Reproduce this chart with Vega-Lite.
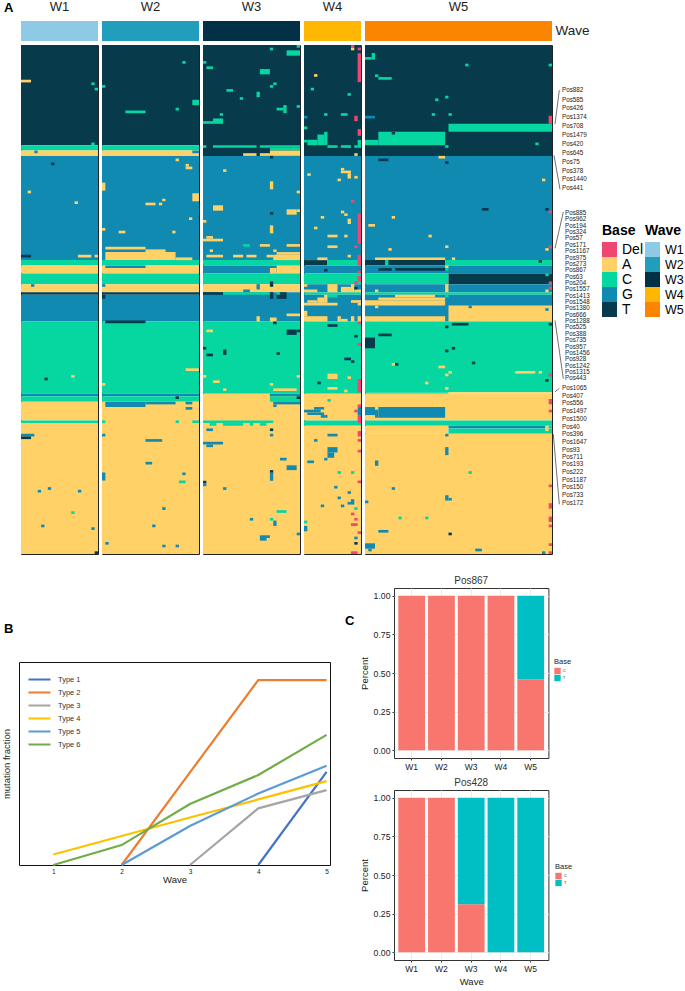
{
"$schema":"https://vega.github.io/schema/vega-lite/v6.json",
"background":"white",
"padding":{"left":0,"top":1,"right":0,"bottom":1},
"config":{"font":"Liberation Sans","view":{"stroke":null}},
"datasets":{
"strips":[{"wave":"W1","name":"Wave"},{"wave":"W2","name":"Wave"},{"wave":"W3","name":"Wave"},{"wave":"W4","name":"Wave"},{"wave":"W5","name":"Wave"}],
"cells":[
{"wave":"W1","base":"T","s0":0,"s1":23,"r0":0,"r1":38},{"wave":"W1","base":"C","s0":0,"s1":23,"r0":38,"r1":40},{"wave":"W1","base":"A","s0":0,"s1":23,"r0":40,"r1":42},{"wave":"W1","base":"G","s0":0,"s1":23,"r0":42,"r1":81},{"wave":"W1","base":"C","s0":0,"s1":23,"r0":81,"r1":83},{"wave":"W1","base":"A","s0":0,"s1":23,"r0":83,"r1":86},{"wave":"W1","base":"C","s0":0,"s1":23,"r0":86,"r1":90},{"wave":"W1","base":"A","s0":0,"s1":23,"r0":90,"r1":93},{"wave":"W1","base":"T","s0":0,"s1":23,"r0":93,"r1":94},{"wave":"W1","base":"G","s0":0,"s1":23,"r0":94,"r1":104},{"wave":"W1","base":"C","s0":0,"s1":23,"r0":104,"r1":131},{"wave":"W1","base":"G","s0":0,"s1":23,"r0":131,"r1":132},{"wave":"W1","base":"C","s0":0,"s1":23,"r0":132,"r1":134},{"wave":"W1","base":"A","s0":0,"s1":23,"r0":134,"r1":141},{"wave":"W1","base":"C","s0":0,"s1":23,"r0":141,"r1":142},{"wave":"W1","base":"A","s0":0,"s1":23,"r0":142,"r1":191},
{"wave":"W1","base":"A","s0":0,"s1":3,"r0":13.5,"r1":14.5},{"wave":"W1","base":"C","s0":21,"s1":22,"r0":14.5,"r1":15.5},{"wave":"W1","base":"C","s0":22,"s1":23,"r0":16.5,"r1":17.5},{"wave":"W1","base":"C","s0":21,"s1":22,"r0":37,"r1":38},{"wave":"W1","base":"G","s0":4,"s1":5,"r0":40,"r1":41},{"wave":"W1","base":"T","s0":9,"s1":10,"r0":44.5,"r1":45.5},{"wave":"W1","base":"A","s0":2,"s1":3,"r0":55,"r1":56},{"wave":"W1","base":"A","s0":16,"s1":17,"r0":59,"r1":60},{"wave":"W1","base":"T","s0":0,"s1":3,"r0":79,"r1":80},{"wave":"W1","base":"A","s0":17,"s1":21,"r0":79,"r1":80},{"wave":"W1","base":"A","s0":22,"s1":23,"r0":79,"r1":80},{"wave":"W1","base":"G","s0":3,"s1":4,"r0":90,"r1":91},{"wave":"W1","base":"T","s0":7,"s1":8,"r0":125,"r1":126},{"wave":"W1","base":"A","s0":15,"s1":16,"r0":124,"r1":125},{"wave":"W1","base":"G","s0":0,"s1":4,"r0":146,"r1":147},{"wave":"W1","base":"T","s0":0,"s1":3,"r0":147,"r1":148},{"wave":"W1","base":"G","s0":5,"s1":6,"r0":167,"r1":168},{"wave":"W1","base":"G","s0":8,"s1":9,"r0":166,"r1":167},{"wave":"W1","base":"G","s0":17,"s1":18,"r0":167,"r1":168},{"wave":"W1","base":"C","s0":15,"s1":16,"r0":175,"r1":176},{"wave":"W1","base":"G","s0":6,"s1":7,"r0":180,"r1":181},{"wave":"W1","base":"G","s0":21,"s1":22,"r0":181,"r1":182},{"wave":"W1","base":"T","s0":22,"s1":23,"r0":190,"r1":191},

{"wave":"W2","base":"T","s0":0,"s1":29,"r0":0,"r1":38},{"wave":"W2","base":"C","s0":0,"s1":29,"r0":38,"r1":40},{"wave":"W2","base":"A","s0":0,"s1":29,"r0":40,"r1":42},{"wave":"W2","base":"G","s0":0,"s1":29,"r0":42,"r1":81},{"wave":"W2","base":"C","s0":0,"s1":29,"r0":81,"r1":83},{"wave":"W2","base":"A","s0":0,"s1":29,"r0":83,"r1":86},{"wave":"W2","base":"C","s0":0,"s1":29,"r0":86,"r1":90},{"wave":"W2","base":"A","s0":0,"s1":29,"r0":90,"r1":93},{"wave":"W2","base":"T","s0":0,"s1":29,"r0":93,"r1":94},{"wave":"W2","base":"G","s0":0,"s1":29,"r0":94,"r1":104},{"wave":"W2","base":"C","s0":0,"s1":29,"r0":104,"r1":131},{"wave":"W2","base":"G","s0":0,"s1":29,"r0":131,"r1":132},{"wave":"W2","base":"C","s0":0,"s1":29,"r0":132,"r1":134},{"wave":"W2","base":"A","s0":0,"s1":29,"r0":134,"r1":191},
{"wave":"W2","base":"C","s0":24,"s1":25,"r0":6.5,"r1":7.5},{"wave":"W2","base":"C","s0":0,"s1":1,"r0":15.5,"r1":16.5},{"wave":"W2","base":"C","s0":7,"s1":13,"r0":25,"r1":26},{"wave":"W2","base":"C","s0":22,"s1":23,"r0":24,"r1":25},{"wave":"W2","base":"C","s0":27,"s1":29,"r0":21,"r1":23},{"wave":"W2","base":"G","s0":27,"s1":29,"r0":40,"r1":41},{"wave":"W2","base":"A","s0":22,"s1":23,"r0":43,"r1":44},{"wave":"W2","base":"A","s0":25,"s1":26,"r0":45,"r1":46},{"wave":"W2","base":"A","s0":25,"s1":27,"r0":46,"r1":47},{"wave":"W2","base":"A","s0":0,"s1":1,"r0":52,"r1":55},{"wave":"W2","base":"A","s0":27,"s1":29,"r0":56,"r1":59},{"wave":"W2","base":"A","s0":18,"s1":19,"r0":58,"r1":59},{"wave":"W2","base":"A","s0":13,"s1":16,"r0":59.5,"r1":60.5},{"wave":"W2","base":"A","s0":17,"s1":18,"r0":59.5,"r1":60.5},{"wave":"W2","base":"A","s0":26,"s1":27,"r0":65,"r1":66},{"wave":"W2","base":"A","s0":0,"s1":1,"r0":69,"r1":70},{"wave":"W2","base":"A","s0":5,"s1":7,"r0":70,"r1":71},{"wave":"W2","base":"A","s0":21,"s1":22,"r0":70,"r1":71},{"wave":"W2","base":"A","s0":1,"s1":13,"r0":76,"r1":77},{"wave":"W2","base":"A","s0":13,"s1":19,"r0":77,"r1":78},{"wave":"W2","base":"A","s0":1,"s1":22,"r0":78,"r1":81},{"wave":"W2","base":"A","s0":22,"s1":27,"r0":80,"r1":81},{"wave":"W2","base":"G","s0":1,"s1":13,"r0":83,"r1":84},{"wave":"W2","base":"G","s0":0,"s1":1,"r0":90,"r1":91},{"wave":"W2","base":"T","s0":0,"s1":1,"r0":94,"r1":95.5},{"wave":"W2","base":"T","s0":1,"s1":13,"r0":103.6,"r1":104.6},{"wave":"W2","base":"A","s0":25,"s1":29,"r0":121.5,"r1":122.5},{"wave":"W2","base":"A","s0":0,"s1":1,"r0":127,"r1":128},{"wave":"W2","base":"T","s0":22,"s1":23,"r0":132,"r1":133},{"wave":"W2","base":"G","s0":1,"s1":13,"r0":134,"r1":136},{"wave":"W2","base":"G","s0":13,"s1":22,"r0":134,"r1":135},{"wave":"W2","base":"G","s0":25,"s1":27,"r0":134,"r1":135},{"wave":"W2","base":"G","s0":25,"s1":27,"r0":136,"r1":137},{"wave":"W2","base":"C","s0":0,"s1":1,"r0":141,"r1":142},{"wave":"W2","base":"C","s0":22,"s1":23,"r0":141,"r1":142},{"wave":"W2","base":"C","s0":27,"s1":29,"r0":141,"r1":142},{"wave":"W2","base":"G","s0":0,"s1":1,"r0":146,"r1":147},{"wave":"W2","base":"G","s0":13,"s1":18,"r0":148,"r1":149},{"wave":"W2","base":"G","s0":13,"s1":15,"r0":156.5,"r1":157.5},{"wave":"W2","base":"G","s0":24,"s1":25,"r0":160.5,"r1":161.5},{"wave":"W2","base":"G","s0":0,"s1":1,"r0":160.5,"r1":163.5},{"wave":"W2","base":"C","s0":23,"s1":25,"r0":163.5,"r1":164.5},{"wave":"W2","base":"G","s0":18,"s1":19,"r0":173.5,"r1":174.5},{"wave":"W2","base":"G","s0":15,"s1":16,"r0":180,"r1":181},{"wave":"W2","base":"G","s0":1,"s1":2,"r0":186.5,"r1":187.5},{"wave":"W2","base":"G","s0":18,"s1":19,"r0":187.5,"r1":188.5},{"wave":"W2","base":"G","s0":22,"s1":23,"r0":187.5,"r1":188.5},

{"wave":"W3","base":"T","s0":0,"s1":29,"r0":0,"r1":42},{"wave":"W3","base":"G","s0":0,"s1":29,"r0":42,"r1":81},{"wave":"W3","base":"C","s0":0,"s1":29,"r0":81,"r1":83},{"wave":"W3","base":"G","s0":0,"s1":29,"r0":83,"r1":86},{"wave":"W3","base":"C","s0":0,"s1":29,"r0":86,"r1":90},{"wave":"W3","base":"A","s0":0,"s1":29,"r0":90,"r1":93},{"wave":"W3","base":"G","s0":0,"s1":29,"r0":93,"r1":104},{"wave":"W3","base":"C","s0":0,"s1":29,"r0":104,"r1":131},{"wave":"W3","base":"A","s0":0,"s1":29,"r0":131,"r1":191},
{"wave":"W3","base":"C","s0":20,"s1":21,"r0":1.5,"r1":2.5},{"wave":"W3","base":"C","s0":28,"s1":29,"r0":0.5,"r1":1.5},{"wave":"W3","base":"C","s0":25,"s1":29,"r0":2.5,"r1":4.5},{"wave":"W3","base":"C","s0":0,"s1":1,"r0":6.5,"r1":7.5},{"wave":"W3","base":"C","s0":1,"s1":3,"r0":8.5,"r1":9.5},{"wave":"W3","base":"C","s0":17,"s1":20,"r0":9.5,"r1":11.5},{"wave":"W3","base":"C","s0":21,"s1":22,"r0":14.5,"r1":15.5},{"wave":"W3","base":"C","s0":20,"s1":21,"r0":15.5,"r1":16.5},{"wave":"W3","base":"C","s0":7,"s1":9,"r0":17,"r1":18},{"wave":"W3","base":"C","s0":16,"s1":17,"r0":18,"r1":20},{"wave":"W3","base":"C","s0":11,"s1":12,"r0":20,"r1":21},{"wave":"W3","base":"C","s0":28,"s1":29,"r0":23,"r1":24},{"wave":"W3","base":"C","s0":22,"s1":24,"r0":24,"r1":25},{"wave":"W3","base":"C","s0":24,"s1":25,"r0":23,"r1":26},{"wave":"W3","base":"C","s0":5,"s1":6,"r0":26,"r1":27},{"wave":"W3","base":"C","s0":3,"s1":6,"r0":28,"r1":30},{"wave":"W3","base":"C","s0":0,"s1":3,"r0":29,"r1":30},{"wave":"W3","base":"C","s0":0,"s1":1,"r0":38,"r1":39},{"wave":"W3","base":"C","s0":3,"s1":16,"r0":38,"r1":39},{"wave":"W3","base":"C","s0":17,"s1":29,"r0":38,"r1":39},{"wave":"W3","base":"C","s0":20,"s1":29,"r0":39,"r1":40},{"wave":"W3","base":"A","s0":20,"s1":29,"r0":40,"r1":42},{"wave":"W3","base":"A","s0":12,"s1":16,"r0":41,"r1":42},{"wave":"W3","base":"A","s0":17,"s1":20,"r0":41,"r1":42},{"wave":"W3","base":"T","s0":20,"s1":21,"r0":42,"r1":43},{"wave":"W3","base":"A","s0":6,"s1":7,"r0":47,"r1":48},{"wave":"W3","base":"A","s0":20,"s1":21,"r0":51.5,"r1":54.5},{"wave":"W3","base":"A","s0":28,"s1":29,"r0":55,"r1":56},{"wave":"W3","base":"A","s0":3,"s1":6,"r0":60.5,"r1":62.5},{"wave":"W3","base":"A","s0":25,"s1":28,"r0":62,"r1":64},{"wave":"W3","base":"A","s0":28,"s1":29,"r0":62,"r1":63},{"wave":"W3","base":"T","s0":20,"s1":21,"r0":63,"r1":64},{"wave":"W3","base":"A","s0":0,"s1":1,"r0":66,"r1":67},{"wave":"W3","base":"A","s0":20,"s1":21,"r0":68,"r1":71},{"wave":"W3","base":"A","s0":1,"s1":3,"r0":72,"r1":73},{"wave":"W3","base":"A","s0":0,"s1":6,"r0":73,"r1":74},{"wave":"W3","base":"C","s0":12,"s1":14,"r0":75,"r1":76},{"wave":"W3","base":"A","s0":17,"s1":20,"r0":75,"r1":76},{"wave":"W3","base":"A","s0":25,"s1":29,"r0":75,"r1":76},{"wave":"W3","base":"A","s0":2,"s1":3,"r0":77,"r1":78},{"wave":"W3","base":"A","s0":21,"s1":22,"r0":77,"r1":78},{"wave":"W3","base":"A","s0":22,"s1":29,"r0":78,"r1":79},{"wave":"W3","base":"A","s0":1,"s1":6,"r0":79,"r1":80},{"wave":"W3","base":"A","s0":9,"s1":12,"r0":79,"r1":80},{"wave":"W3","base":"A","s0":13,"s1":16,"r0":79,"r1":80},{"wave":"W3","base":"A","s0":19,"s1":21,"r0":79,"r1":80},{"wave":"W3","base":"A","s0":21,"s1":29,"r0":79,"r1":81},{"wave":"W3","base":"A","s0":22,"s1":29,"r0":83,"r1":86},{"wave":"W3","base":"A","s0":20,"s1":22,"r0":84,"r1":86},{"wave":"W3","base":"T","s0":20,"s1":21,"r0":89,"r1":91},{"wave":"W3","base":"G","s0":16,"s1":17,"r0":90,"r1":92},{"wave":"W3","base":"G","s0":12,"s1":14,"r0":92,"r1":93},{"wave":"W3","base":"T","s0":0,"s1":6,"r0":93,"r1":94},{"wave":"W3","base":"C","s0":6,"s1":20,"r0":93,"r1":94},{"wave":"W3","base":"T","s0":20,"s1":21,"r0":93,"r1":95.5},{"wave":"W3","base":"C","s0":22,"s1":23,"r0":93,"r1":94},{"wave":"W3","base":"T","s0":23,"s1":25,"r0":93,"r1":94},{"wave":"W3","base":"T","s0":22,"s1":25,"r0":94,"r1":95.5},{"wave":"W3","base":"A","s0":25,"s1":29,"r0":101,"r1":102},{"wave":"W3","base":"A","s0":16,"s1":17,"r0":102,"r1":104},{"wave":"W3","base":"A","s0":20,"s1":22,"r0":102.5,"r1":104},{"wave":"W3","base":"T","s0":21,"s1":22,"r0":104,"r1":105},{"wave":"W3","base":"A","s0":1,"s1":3,"r0":107,"r1":108},{"wave":"W3","base":"T","s0":25,"s1":28,"r0":107,"r1":109},{"wave":"W3","base":"T","s0":28,"s1":29,"r0":107,"r1":108},{"wave":"W3","base":"T","s0":0,"s1":1,"r0":113.5,"r1":114.5},{"wave":"W3","base":"T","s0":1,"s1":3,"r0":116,"r1":117},{"wave":"W3","base":"T","s0":6,"s1":7,"r0":114.5,"r1":116.5},{"wave":"W3","base":"T","s0":22,"s1":23,"r0":115.5,"r1":116.5},{"wave":"W3","base":"A","s0":0,"s1":1,"r0":124,"r1":125},{"wave":"W3","base":"A","s0":28,"s1":29,"r0":124,"r1":125},{"wave":"W3","base":"A","s0":3,"s1":5,"r0":126,"r1":127},{"wave":"W3","base":"A","s0":20,"s1":21,"r0":127,"r1":128},{"wave":"W3","base":"A","s0":6,"s1":7,"r0":129,"r1":130},{"wave":"W3","base":"A","s0":21,"s1":28,"r0":129,"r1":130},{"wave":"W3","base":"G","s0":20,"s1":29,"r0":131,"r1":132},{"wave":"W3","base":"C","s0":20,"s1":29,"r0":132,"r1":134},{"wave":"W3","base":"T","s0":28,"s1":29,"r0":132,"r1":133},{"wave":"W3","base":"G","s0":21,"s1":29,"r0":134,"r1":135},{"wave":"W3","base":"G","s0":21,"s1":22,"r0":135,"r1":136},{"wave":"W3","base":"C","s0":0,"s1":21,"r0":141,"r1":142},{"wave":"W3","base":"C","s0":2,"s1":4,"r0":142,"r1":143},{"wave":"W3","base":"C","s0":6,"s1":12,"r0":142,"r1":143},{"wave":"W3","base":"C","s0":14,"s1":15,"r0":142,"r1":143},{"wave":"W3","base":"C","s0":17,"s1":19,"r0":142,"r1":143},{"wave":"W3","base":"G","s0":1,"s1":3,"r0":144,"r1":145},{"wave":"W3","base":"T","s0":20,"s1":21,"r0":144,"r1":145},{"wave":"W3","base":"G","s0":20,"s1":21,"r0":146,"r1":147},{"wave":"W3","base":"G","s0":0,"s1":6,"r0":149,"r1":150},{"wave":"W3","base":"G","s0":1,"s1":3,"r0":150,"r1":151},{"wave":"W3","base":"G","s0":23,"s1":25,"r0":155,"r1":156},{"wave":"W3","base":"G","s0":25,"s1":28,"r0":157.8,"r1":159.6},{"wave":"W3","base":"T","s0":20,"s1":21,"r0":159.6,"r1":160.6},{"wave":"W3","base":"G","s0":20,"s1":21,"r0":160.6,"r1":163.6},{"wave":"W3","base":"T","s0":0,"s1":1,"r0":163.6,"r1":164.6},{"wave":"W3","base":"G","s0":0,"s1":1,"r0":164.6,"r1":165.6},{"wave":"W3","base":"G","s0":6,"s1":7,"r0":166,"r1":167},{"wave":"W3","base":"C","s0":22,"s1":25,"r0":174.6,"r1":175.6},{"wave":"W3","base":"G","s0":14,"s1":15,"r0":177.5,"r1":178.5},{"wave":"W3","base":"C","s0":20,"s1":21,"r0":177.5,"r1":178.5},{"wave":"W3","base":"G","s0":21,"s1":22,"r0":178.5,"r1":180.5},{"wave":"W3","base":"G","s0":28,"s1":29,"r0":183,"r1":184},{"wave":"W3","base":"G","s0":17,"s1":20,"r0":184,"r1":185},{"wave":"W3","base":"G","s0":17,"s1":19,"r0":185,"r1":186},

{"wave":"W4","base":"T","s0":0,"s1":17,"r0":0,"r1":42},{"wave":"W4","base":"G","s0":0,"s1":17,"r0":42,"r1":81},{"wave":"W4","base":"T","s0":0,"s1":7,"r0":81,"r1":83},{"wave":"W4","base":"C","s0":7,"s1":17,"r0":81,"r1":83},{"wave":"W4","base":"G","s0":0,"s1":17,"r0":83,"r1":86},{"wave":"W4","base":"C","s0":0,"s1":17,"r0":86,"r1":90},{"wave":"W4","base":"G","s0":0,"s1":17,"r0":90,"r1":93},{"wave":"W4","base":"C","s0":0,"s1":17,"r0":93,"r1":94},{"wave":"W4","base":"G","s0":0,"s1":17,"r0":94,"r1":104},{"wave":"W4","base":"C","s0":0,"s1":17,"r0":104,"r1":131},{"wave":"W4","base":"A","s0":0,"s1":17,"r0":131,"r1":141},{"wave":"W4","base":"C","s0":0,"s1":17,"r0":141,"r1":143},{"wave":"W4","base":"A","s0":0,"s1":17,"r0":143,"r1":191},
{"wave":"W4","base":"Del","s0":14,"s1":15,"r0":0.5,"r1":1.5},{"wave":"W4","base":"A","s0":14,"s1":15,"r0":1.5,"r1":2.5},{"wave":"W4","base":"Del","s0":16,"s1":17,"r0":1.5,"r1":2.5},{"wave":"W4","base":"Del","s0":16,"s1":17,"r0":3.6,"r1":14.4},{"wave":"W4","base":"A","s0":3,"s1":4,"r0":11.4,"r1":12.4},{"wave":"W4","base":"C","s0":2,"s1":3,"r0":16.5,"r1":17.5},{"wave":"W4","base":"C","s0":13,"s1":14,"r0":18.5,"r1":19.5},{"wave":"W4","base":"C","s0":6,"s1":7,"r0":26,"r1":27},{"wave":"W4","base":"C","s0":11,"s1":13,"r0":26,"r1":27},{"wave":"W4","base":"G","s0":0,"s1":1,"r0":27,"r1":28},{"wave":"W4","base":"Del","s0":15,"s1":16,"r0":27,"r1":29},{"wave":"W4","base":"C","s0":0,"s1":1,"r0":31,"r1":32},{"wave":"W4","base":"Del","s0":16,"s1":17,"r0":32,"r1":34.5},{"wave":"W4","base":"C","s0":6,"s1":7,"r0":33,"r1":38},{"wave":"W4","base":"C","s0":4,"s1":6,"r0":34,"r1":38},{"wave":"W4","base":"C","s0":1,"s1":4,"r0":36,"r1":38},{"wave":"W4","base":"C","s0":0,"s1":1,"r0":36,"r1":37},{"wave":"W4","base":"C","s0":7,"s1":10,"r0":38,"r1":39},{"wave":"W4","base":"C","s0":11,"s1":14,"r0":38,"r1":39},{"wave":"W4","base":"C","s0":15,"s1":16,"r0":38,"r1":39},{"wave":"W4","base":"C","s0":16,"s1":17,"r0":36,"r1":39},{"wave":"W4","base":"A","s0":15,"s1":16,"r0":41,"r1":42},{"wave":"W4","base":"A","s0":1,"s1":2,"r0":48.5,"r1":49.5},{"wave":"W4","base":"A","s0":11,"s1":12,"r0":46.5,"r1":47.5},{"wave":"W4","base":"A","s0":11,"s1":14,"r0":47.5,"r1":48.5},{"wave":"W4","base":"A","s0":13,"s1":14,"r0":48.5,"r1":50.5},{"wave":"W4","base":"A","s0":15,"s1":16,"r0":49.5,"r1":50.5},{"wave":"W4","base":"A","s0":10,"s1":11,"r0":50.5,"r1":51.5},{"wave":"W4","base":"Del","s0":14,"s1":15,"r0":58.5,"r1":59.5},{"wave":"W4","base":"A","s0":11,"s1":12,"r0":62.5,"r1":63.5},{"wave":"W4","base":"A","s0":12,"s1":13,"r0":63.5,"r1":64.5},{"wave":"W4","base":"A","s0":5,"s1":6,"r0":64.5,"r1":65.5},{"wave":"W4","base":"A","s0":13,"s1":14,"r0":65.5,"r1":67.5},{"wave":"W4","base":"Del","s0":16,"s1":17,"r0":63.5,"r1":75},{"wave":"W4","base":"A","s0":3,"s1":4,"r0":68.5,"r1":69.5},{"wave":"W4","base":"A","s0":7,"s1":10,"r0":71.5,"r1":72.5},{"wave":"W4","base":"A","s0":12,"s1":13,"r0":71.5,"r1":72.5},{"wave":"W4","base":"A","s0":7,"s1":10,"r0":75.5,"r1":76.5},{"wave":"W4","base":"Del","s0":15,"s1":16,"r0":75.5,"r1":76.5},{"wave":"W4","base":"A","s0":13,"s1":14,"r0":79,"r1":80},{"wave":"W4","base":"A","s0":4,"s1":7,"r0":80,"r1":81},{"wave":"W4","base":"Del","s0":16,"s1":17,"r0":79,"r1":83},{"wave":"W4","base":"T","s0":6,"s1":7,"r0":84.3,"r1":85.3},{"wave":"W4","base":"Del","s0":16,"s1":17,"r0":85,"r1":86},{"wave":"W4","base":"Del","s0":16,"s1":17,"r0":87,"r1":89},{"wave":"W4","base":"A","s0":0,"s1":1,"r0":90,"r1":91},{"wave":"W4","base":"A","s0":7,"s1":10,"r0":90,"r1":93},{"wave":"W4","base":"A","s0":11,"s1":14,"r0":91,"r1":93},{"wave":"W4","base":"A","s0":14,"s1":15,"r0":90,"r1":93},{"wave":"W4","base":"A","s0":0,"s1":4,"r0":92,"r1":93},{"wave":"W4","base":"A","s0":15,"s1":17,"r0":92,"r1":93},{"wave":"W4","base":"Del","s0":15,"s1":16,"r0":89,"r1":90},{"wave":"W4","base":"T","s0":15,"s1":16,"r0":91,"r1":92},{"wave":"W4","base":"C","s0":7,"s1":10,"r0":94,"r1":95},{"wave":"W4","base":"A","s0":6,"s1":7,"r0":94,"r1":97},{"wave":"W4","base":"A","s0":4,"s1":6,"r0":95,"r1":97},{"wave":"W4","base":"A","s0":1,"s1":4,"r0":96,"r1":97},{"wave":"W4","base":"A","s0":0,"s1":10,"r0":97,"r1":98},{"wave":"W4","base":"A","s0":14,"s1":17,"r0":96,"r1":97},{"wave":"W4","base":"A","s0":16,"s1":17,"r0":97,"r1":98},{"wave":"W4","base":"A","s0":0,"s1":1,"r0":100,"r1":102},{"wave":"W4","base":"A","s0":0,"s1":7,"r0":102,"r1":104},{"wave":"W4","base":"A","s0":10,"s1":11,"r0":102,"r1":104},{"wave":"W4","base":"A","s0":11,"s1":13,"r0":103,"r1":104},{"wave":"W4","base":"A","s0":14,"s1":15,"r0":102,"r1":104},{"wave":"W4","base":"A","s0":16,"s1":17,"r0":102,"r1":104},{"wave":"W4","base":"Del","s0":16,"s1":17,"r0":104,"r1":105},{"wave":"W4","base":"T","s0":7,"s1":10,"r0":105,"r1":106},{"wave":"W4","base":"T","s0":15,"s1":16,"r0":109,"r1":110},{"wave":"W4","base":"Del","s0":16,"s1":17,"r0":112,"r1":113},{"wave":"W4","base":"T","s0":12,"s1":14,"r0":117.5,"r1":118.5},{"wave":"W4","base":"T","s0":14,"s1":15,"r0":118.5,"r1":119.5},{"wave":"W4","base":"A","s0":7,"s1":10,"r0":123.5,"r1":125.5},{"wave":"W4","base":"A","s0":13,"s1":14,"r0":124.5,"r1":125.5},{"wave":"W4","base":"T","s0":4,"s1":5,"r0":126.5,"r1":127.5},{"wave":"W4","base":"Del","s0":16,"s1":17,"r0":125.5,"r1":130.5},{"wave":"W4","base":"A","s0":7,"s1":10,"r0":128.5,"r1":129.5},{"wave":"W4","base":"A","s0":12,"s1":13,"r0":129.5,"r1":130.5},{"wave":"W4","base":"C","s0":7,"s1":8,"r0":133,"r1":134},{"wave":"W4","base":"Del","s0":16,"s1":17,"r0":135,"r1":136},{"wave":"W4","base":"G","s0":3,"s1":6,"r0":136,"r1":137},{"wave":"W4","base":"G","s0":0,"s1":5,"r0":137,"r1":138},{"wave":"W4","base":"A","s0":5,"s1":6,"r0":137,"r1":138},{"wave":"W4","base":"G","s0":1,"s1":6,"r0":138,"r1":139},{"wave":"W4","base":"G","s0":5,"s1":7,"r0":139,"r1":140},{"wave":"W4","base":"Del","s0":15,"s1":16,"r0":137,"r1":138},{"wave":"W4","base":"G","s0":16,"s1":17,"r0":136,"r1":139},{"wave":"W4","base":"Del","s0":16,"s1":17,"r0":139,"r1":142},{"wave":"W4","base":"G","s0":7,"s1":10,"r0":146,"r1":147},{"wave":"W4","base":"Del","s0":16,"s1":17,"r0":145,"r1":147},{"wave":"W4","base":"G","s0":3,"s1":4,"r0":148,"r1":149},{"wave":"W4","base":"Del","s0":16,"s1":17,"r0":148,"r1":149},{"wave":"W4","base":"G","s0":7,"s1":10,"r0":151,"r1":153},{"wave":"W4","base":"G","s0":7,"s1":9,"r0":153,"r1":155},{"wave":"W4","base":"Del","s0":16,"s1":17,"r0":152,"r1":153},{"wave":"W4","base":"G","s0":6,"s1":7,"r0":155,"r1":156},{"wave":"W4","base":"G","s0":1,"s1":3,"r0":156,"r1":157},{"wave":"W4","base":"C","s0":10,"s1":11,"r0":160,"r1":161},{"wave":"W4","base":"C","s0":14,"s1":15,"r0":160,"r1":161},{"wave":"W4","base":"Del","s0":16,"s1":17,"r0":163.5,"r1":164.5},{"wave":"W4","base":"G","s0":9,"s1":10,"r0":165.5,"r1":166.5},{"wave":"W4","base":"G","s0":13,"s1":14,"r0":167.5,"r1":168.5},{"wave":"W4","base":"G","s0":10,"s1":11,"r0":169.5,"r1":170.5},{"wave":"W4","base":"G","s0":14,"s1":15,"r0":170.5,"r1":172.5},{"wave":"W4","base":"G","s0":13,"s1":14,"r0":171.5,"r1":172.5},{"wave":"W4","base":"G","s0":5,"s1":6,"r0":172.5,"r1":173.5},{"wave":"W4","base":"G","s0":11,"s1":12,"r0":172.5,"r1":173.5},{"wave":"W4","base":"C","s0":15,"s1":16,"r0":173.5,"r1":174.5},{"wave":"W4","base":"Del","s0":14,"s1":15,"r0":175.5,"r1":176.5},{"wave":"W4","base":"Del","s0":15,"s1":16,"r0":177.5,"r1":178.5},{"wave":"W4","base":"C","s0":0,"s1":1,"r0":178.5,"r1":179.5},{"wave":"W4","base":"G","s0":0,"s1":1,"r0":180.5,"r1":182.5},{"wave":"W4","base":"Del","s0":14,"s1":16,"r0":179.5,"r1":180.5},{"wave":"W4","base":"Del","s0":16,"s1":17,"r0":182.5,"r1":183.5},{"wave":"W4","base":"G","s0":15,"s1":16,"r0":184.5,"r1":185.5},{"wave":"W4","base":"T","s0":15,"s1":16,"r0":186.5,"r1":187.5},{"wave":"W4","base":"Del","s0":14,"s1":16,"r0":190,"r1":191},

{"wave":"W5","base":"T","s0":0,"s1":56,"r0":0,"r1":42},{"wave":"W5","base":"G","s0":0,"s1":56,"r0":42,"r1":81},{"wave":"W5","base":"T","s0":0,"s1":24,"r0":81,"r1":83},{"wave":"W5","base":"C","s0":24,"s1":56,"r0":81,"r1":83},{"wave":"W5","base":"G","s0":0,"s1":56,"r0":83,"r1":86},{"wave":"W5","base":"C","s0":0,"s1":25,"r0":86,"r1":90},{"wave":"W5","base":"T","s0":25,"s1":56,"r0":86,"r1":90},{"wave":"W5","base":"G","s0":0,"s1":56,"r0":90,"r1":93},{"wave":"W5","base":"C","s0":0,"s1":56,"r0":93,"r1":94},{"wave":"W5","base":"G","s0":0,"s1":56,"r0":94,"r1":104},{"wave":"W5","base":"C","s0":0,"s1":56,"r0":104,"r1":130.5},{"wave":"W5","base":"C","s0":0,"s1":25,"r0":130.5,"r1":131},{"wave":"W5","base":"A","s0":25,"s1":56,"r0":130.5,"r1":131},{"wave":"W5","base":"A","s0":0,"s1":56,"r0":131,"r1":141},{"wave":"W5","base":"C","s0":0,"s1":56,"r0":141,"r1":143},{"wave":"W5","base":"A","s0":0,"s1":25,"r0":143,"r1":146},{"wave":"W5","base":"G","s0":25,"s1":54,"r0":143,"r1":144},{"wave":"W5","base":"C","s0":25,"s1":56,"r0":144,"r1":146},{"wave":"W5","base":"C","s0":54,"s1":56,"r0":143,"r1":144},{"wave":"W5","base":"A","s0":0,"s1":56,"r0":146,"r1":191},
{"wave":"W5","base":"C","s0":2,"s1":3,"r0":3.5,"r1":6},{"wave":"W5","base":"C","s0":0,"s1":2,"r0":5,"r1":6},{"wave":"W5","base":"C","s0":30,"s1":31,"r0":7.5,"r1":8.5},{"wave":"W5","base":"C","s0":55,"s1":56,"r0":7.5,"r1":8.5},{"wave":"W5","base":"C","s0":3,"s1":4,"r0":11.5,"r1":12.5},{"wave":"W5","base":"C","s0":4,"s1":8,"r0":12.5,"r1":13.5},{"wave":"W5","base":"C","s0":21,"s1":22,"r0":20.5,"r1":21.5},{"wave":"W5","base":"C","s0":24,"s1":25,"r0":19.5,"r1":20.5},{"wave":"W5","base":"C","s0":20,"s1":21,"r0":26,"r1":27},{"wave":"W5","base":"C","s0":25,"s1":26,"r0":26,"r1":27},{"wave":"W5","base":"G","s0":0,"s1":3,"r0":27,"r1":28},{"wave":"W5","base":"Del","s0":55,"s1":56,"r0":27,"r1":30},{"wave":"W5","base":"C","s0":25,"s1":56,"r0":30,"r1":33},{"wave":"W5","base":"C","s0":4,"s1":24,"r0":33,"r1":38},{"wave":"W5","base":"C","s0":0,"s1":4,"r0":36,"r1":38},{"wave":"W5","base":"T","s0":8,"s1":9,"r0":33,"r1":34},{"wave":"W5","base":"C","s0":51,"s1":52,"r0":37,"r1":38},{"wave":"W5","base":"C","s0":24,"s1":25,"r0":38,"r1":39},{"wave":"W5","base":"A","s0":22,"s1":24,"r0":42,"r1":43},{"wave":"W5","base":"T","s0":4,"s1":7,"r0":43,"r1":44},{"wave":"W5","base":"T","s0":24,"s1":25,"r0":44,"r1":45},{"wave":"W5","base":"A","s0":53,"s1":54,"r0":50.5,"r1":51.5},{"wave":"W5","base":"T","s0":35,"s1":37,"r0":61.5,"r1":62.5},{"wave":"W5","base":"T","s0":54,"s1":55,"r0":61.5,"r1":62.5},{"wave":"W5","base":"Del","s0":55,"s1":56,"r0":62.5,"r1":63.5},{"wave":"W5","base":"A","s0":8,"s1":9,"r0":64.5,"r1":65.5},{"wave":"W5","base":"A","s0":1,"s1":3,"r0":67.5,"r1":68.5},{"wave":"W5","base":"A","s0":19,"s1":20,"r0":71.5,"r1":72.5},{"wave":"W5","base":"A","s0":24,"s1":25,"r0":75.5,"r1":76.5},{"wave":"W5","base":"Del","s0":55,"s1":56,"r0":75.5,"r1":76.5},{"wave":"W5","base":"A","s0":54,"s1":55,"r0":76.5,"r1":77.5},{"wave":"W5","base":"A","s0":7,"s1":8,"r0":76.5,"r1":77.5},{"wave":"W5","base":"A","s0":3,"s1":24,"r0":80,"r1":81},{"wave":"W5","base":"A","s0":26,"s1":27,"r0":80,"r1":81},{"wave":"W5","base":"C","s0":6,"s1":7,"r0":81,"r1":83},{"wave":"W5","base":"T","s0":52,"s1":53,"r0":81,"r1":82},{"wave":"W5","base":"A","s0":24,"s1":25,"r0":83,"r1":84},{"wave":"W5","base":"C","s0":24,"s1":25,"r0":84,"r1":85},{"wave":"W5","base":"T","s0":4,"s1":8,"r0":84,"r1":85},{"wave":"W5","base":"T","s0":9,"s1":24,"r0":84,"r1":85},{"wave":"W5","base":"C","s0":54,"s1":55,"r0":86,"r1":87},{"wave":"W5","base":"Del","s0":55,"s1":56,"r0":89,"r1":90},{"wave":"W5","base":"A","s0":24,"s1":25,"r0":90,"r1":93},{"wave":"W5","base":"A","s0":3,"s1":4,"r0":92,"r1":93},{"wave":"W5","base":"A","s0":54,"s1":55,"r0":92,"r1":93},{"wave":"W5","base":"Del","s0":55,"s1":56,"r0":91,"r1":92},{"wave":"W5","base":"C","s0":24,"s1":25,"r0":94,"r1":95},{"wave":"W5","base":"A","s0":9,"s1":21,"r0":94,"r1":95},{"wave":"W5","base":"A","s0":4,"s1":24,"r0":95,"r1":96},{"wave":"W5","base":"A","s0":0,"s1":24,"r0":96,"r1":98},{"wave":"W5","base":"A","s0":3,"s1":4,"r0":98,"r1":99},{"wave":"W5","base":"A","s0":25,"s1":56,"r0":98,"r1":104},{"wave":"W5","base":"G","s0":31,"s1":32,"r0":98,"r1":99},{"wave":"W5","base":"G","s0":54,"s1":55,"r0":99,"r1":100},{"wave":"W5","base":"A","s0":0,"s1":24,"r0":102,"r1":104},{"wave":"W5","base":"T","s0":26,"s1":31,"r0":104.5,"r1":105.5},{"wave":"W5","base":"T","s0":24,"s1":25,"r0":105.5,"r1":106.5},{"wave":"W5","base":"T","s0":55,"s1":56,"r0":104.5,"r1":105.5},{"wave":"W5","base":"T","s0":4,"s1":8,"r0":108.5,"r1":109.5},{"wave":"W5","base":"T","s0":0,"s1":3,"r0":110,"r1":114},{"wave":"W5","base":"T","s0":26,"s1":27,"r0":113.5,"r1":114.5},{"wave":"W5","base":"T","s0":24,"s1":25,"r0":114.5,"r1":115.5},{"wave":"W5","base":"T","s0":32,"s1":33,"r0":119,"r1":120},{"wave":"W5","base":"T","s0":9,"s1":10,"r0":119.5,"r1":120.5},{"wave":"W5","base":"A","s0":8,"s1":9,"r0":119.5,"r1":120.5},{"wave":"W5","base":"A","s0":22,"s1":24,"r0":120.5,"r1":121.5},{"wave":"W5","base":"A","s0":25,"s1":26,"r0":122.5,"r1":123.5},{"wave":"W5","base":"A","s0":24,"s1":25,"r0":123.5,"r1":124.5},{"wave":"W5","base":"A","s0":45,"s1":51,"r0":122.5,"r1":123.5},{"wave":"W5","base":"A","s0":52,"s1":53,"r0":122.5,"r1":123.5},{"wave":"W5","base":"Del","s0":55,"s1":56,"r0":123.5,"r1":124.5},{"wave":"W5","base":"T","s0":54,"s1":55,"r0":125.5,"r1":126.5},{"wave":"W5","base":"A","s0":18,"s1":19,"r0":126.5,"r1":127.5},{"wave":"W5","base":"A","s0":24,"s1":25,"r0":128.5,"r1":129.5},{"wave":"W5","base":"Del","s0":55,"s1":56,"r0":133,"r1":135},{"wave":"W5","base":"Del","s0":55,"s1":56,"r0":137,"r1":138},{"wave":"W5","base":"G","s0":0,"s1":3,"r0":136,"r1":139},{"wave":"W5","base":"G","s0":3,"s1":4,"r0":137,"r1":140},{"wave":"W5","base":"G","s0":4,"s1":24,"r0":136,"r1":140},{"wave":"W5","base":"A","s0":54,"s1":55,"r0":143,"r1":145},{"wave":"W5","base":"G","s0":24,"s1":25,"r0":146,"r1":147},{"wave":"W5","base":"G","s0":24,"s1":25,"r0":151,"r1":154},{"wave":"W5","base":"G","s0":3,"s1":4,"r0":156,"r1":158},{"wave":"W5","base":"C","s0":31,"s1":32,"r0":160,"r1":161},{"wave":"W5","base":"Del","s0":55,"s1":56,"r0":165,"r1":166},{"wave":"W5","base":"G","s0":8,"s1":9,"r0":166,"r1":167},{"wave":"W5","base":"G","s0":24,"s1":25,"r0":169,"r1":171},{"wave":"W5","base":"G","s0":25,"s1":26,"r0":170,"r1":171},{"wave":"W5","base":"G","s0":0,"s1":1,"r0":171,"r1":172},{"wave":"W5","base":"Del","s0":55,"s1":56,"r0":172,"r1":174},{"wave":"W5","base":"C","s0":10,"s1":11,"r0":177,"r1":178},{"wave":"W5","base":"C","s0":18,"s1":19,"r0":177,"r1":178},{"wave":"W5","base":"Del","s0":55,"s1":56,"r0":177,"r1":179},{"wave":"W5","base":"Del","s0":55,"s1":56,"r0":180,"r1":181},{"wave":"W5","base":"G","s0":4,"s1":7,"r0":182,"r1":183},{"wave":"W5","base":"T","s0":25,"s1":26,"r0":183,"r1":184},{"wave":"W5","base":"Del","s0":55,"s1":56,"r0":187,"r1":188},{"wave":"W5","base":"G","s0":0,"s1":3,"r0":187,"r1":189},{"wave":"W5","base":"G","s0":1,"s1":2,"r0":189,"r1":190},{"wave":"W5","base":"G","s0":33,"s1":35,"r0":189,"r1":190},{"wave":"W5","base":"Del","s0":55,"s1":56,"r0":190,"r1":191},{"wave":"W5","base":"G","s0":53,"s1":54,"r0":190,"r1":191}
],
"poslabels":[
{"name":"Pos882","col":6,"row":17.5},{"name":"Pos585","col":6,"row":20.9},{"name":"Pos426","col":6,"row":24.2},{"name":"Pos1374","col":6,"row":27.5},{"name":"Pos708","col":6,"row":30.9},{"name":"Pos1479","col":6,"row":34.1},{"name":"Pos420","col":6,"row":37.4},{"name":"Pos645","col":6,"row":40.8},{"name":"Pos75","col":6,"row":44.2},{"name":"Pos378","col":6,"row":47.6},{"name":"Pos1440","col":6,"row":50.8},{"name":"Pos441","col":6,"row":54.1},
{"name":"Pos885","col":9,"row":63.4},{"name":"Pos962","col":9,"row":65.8},{"name":"Pos194","col":9,"row":68.2},{"name":"Pos324","col":9,"row":70.5},{"name":"Pos57","col":9,"row":72.9},{"name":"Pos171","col":9,"row":75.3},{"name":"Pos1167","col":9,"row":77.7},{"name":"Pos975","col":9,"row":80.1},{"name":"Pos273","col":9,"row":82.4},{"name":"Pos867","col":9,"row":84.8},{"name":"Pos63","col":9,"row":87.2},{"name":"Pos204","col":9,"row":89.6},{"name":"Pos1557","col":9,"row":92},{"name":"Pos1413","col":9,"row":94.3},{"name":"Pos1548","col":9,"row":96.7},{"name":"Pos1380","col":9,"row":99.1},{"name":"Pos666","col":9,"row":101.5},{"name":"Pos1288","col":9,"row":103.9},{"name":"Pos525","col":9,"row":106.2},{"name":"Pos388","col":9,"row":108.6},{"name":"Pos735","col":9,"row":111},{"name":"Pos957","col":9,"row":113.4},{"name":"Pos1456","col":9,"row":115.8},{"name":"Pos928","col":9,"row":118.1},{"name":"Pos1242","col":9,"row":120.5},{"name":"Pos1315","col":9,"row":122.9},{"name":"Pos443","col":9,"row":125.3},
{"name":"Pos1065","col":6,"row":129},{"name":"Pos407","col":6,"row":131.9},{"name":"Pos556","col":6,"row":134.6},{"name":"Pos1497","col":6,"row":137.5},{"name":"Pos1500","col":6,"row":140.4},{"name":"Pos40","col":6,"row":143.3},{"name":"Pos396","col":6,"row":146.1},{"name":"Pos1647","col":6,"row":149},{"name":"Pos93","col":6,"row":151.9},{"name":"Pos711","col":6,"row":154.6},{"name":"Pos193","col":6,"row":157.5},{"name":"Pos222","col":6,"row":160.4},{"name":"Pos1187","col":6,"row":163.3},{"name":"Pos150","col":6,"row":166.1},{"name":"Pos733","col":6,"row":168.9},{"name":"Pos172","col":6,"row":171.8}
],
"leaders":[
{"c0":-1,"c1":3.3,"r0":30.1,"r1":17.4},{"c0":-2,"c1":4,"r0":41.8,"r1":54.5},{"c0":-1,"c1":7.3,"r0":76.6,"r1":63},{"c0":-1,"c1":7.3,"r0":103.6,"r1":125.4},{"c0":-1,"c1":3.3,"r0":130.3,"r1":129},{"c0":-2.7,"c1":3.3,"r0":146.1,"r1":172.4}
],
"types":[
{"type":"Type 1","wave":4,"fraction":0},{"type":"Type 1","wave":5,"fraction":0.459},
{"type":"Type 2","wave":2,"fraction":0},{"type":"Type 2","wave":3,"fraction":0.456},{"type":"Type 2","wave":4,"fraction":0.911},{"type":"Type 2","wave":5,"fraction":0.911},
{"type":"Type 3","wave":3,"fraction":0},{"type":"Type 3","wave":4,"fraction":0.279},{"type":"Type 3","wave":5,"fraction":0.369},
{"type":"Type 4","wave":1,"fraction":0.052},{"type":"Type 4","wave":2,"fraction":0.143},{"type":"Type 4","wave":3,"fraction":0.234},{"type":"Type 4","wave":4,"fraction":0.323},{"type":"Type 4","wave":5,"fraction":0.413},
{"type":"Type 5","wave":2,"fraction":0},{"type":"Type 5","wave":3,"fraction":0.192},{"type":"Type 5","wave":4,"fraction":0.352},{"type":"Type 5","wave":5,"fraction":0.489},
{"type":"Type 6","wave":1,"fraction":0},{"type":"Type 6","wave":2,"fraction":0.098},{"type":"Type 6","wave":3,"fraction":0.3},{"type":"Type 6","wave":4,"fraction":0.443},{"type":"Type 6","wave":5,"fraction":0.641}
],
"pos867":[{"wave":"W1","base":"C","percent":1},{"wave":"W2","base":"C","percent":1},{"wave":"W3","base":"C","percent":1},{"wave":"W4","base":"C","percent":1},{"wave":"W5","base":"C","percent":0.46},{"wave":"W5","base":"T","percent":0.54}],
"pos428":[{"wave":"W1","base":"C","percent":1},{"wave":"W2","base":"C","percent":1},{"wave":"W3","base":"C","percent":0.31},{"wave":"W3","base":"T","percent":0.69},{"wave":"W4","base":"T","percent":1},{"wave":"W5","base":"T","percent":1}]
},
"spacing":20,
"resolve":{"scale":{"color":"independent"}},
"vconcat":[
{"spacing":0,"resolve":{"scale":{"color":"independent"}},"hconcat":[
 {"width":1,"height":1,"data":{"values":[{"tag":"A"}]},"mark":{"type":"rect","opacity":0},"encoding":{},"title":{"text":"A","fontSize":13,"fontWeight":"bold","anchor":"start","dx":-15,"dy":-2,"offset":4,"color":"#000"}},
 {"spacing":3,"resolve":{"scale":{"color":"independent"}},"vconcat":[
  {"spacing":4,"bounds":"flush","hconcat":[
   {"width":77,"height":20,"title":{"text":"W1","fontSize":13,"fontWeight":"normal","offset":7,"color":"#222"},"data":{"name":"strips"},"transform":[{"filter":"datum.wave==='W1'"}],"mark":"rect","encoding":{"x":{"field":"wave","type":"nominal","axis":null,"scale":{"padding":0}},"y":{"field":"name","type":"nominal","axis":null,"scale":{"padding":0}},"color":{"field":"wave","type":"nominal","legend":null,"scale":{"domain":["W1","W2","W3","W4","W5"],"range":["#8ECAE6","#219EBC","#023047","#FFB703","#FB8500"]}}}},
   {"width":97,"height":20,"title":{"text":"W2","fontSize":13,"fontWeight":"normal","offset":7,"color":"#222"},"data":{"name":"strips"},"transform":[{"filter":"datum.wave==='W2'"}],"mark":"rect","encoding":{"x":{"field":"wave","type":"nominal","axis":null,"scale":{"padding":0}},"y":{"field":"name","type":"nominal","axis":null,"scale":{"padding":0}},"color":{"field":"wave","type":"nominal","legend":null,"scale":{"domain":["W1","W2","W3","W4","W5"],"range":["#8ECAE6","#219EBC","#023047","#FFB703","#FB8500"]}}}},
   {"width":97,"height":20,"title":{"text":"W3","fontSize":13,"fontWeight":"normal","offset":7,"color":"#222"},"data":{"name":"strips"},"transform":[{"filter":"datum.wave==='W3'"}],"mark":"rect","encoding":{"x":{"field":"wave","type":"nominal","axis":null,"scale":{"padding":0}},"y":{"field":"name","type":"nominal","axis":null,"scale":{"padding":0}},"color":{"field":"wave","type":"nominal","legend":null,"scale":{"domain":["W1","W2","W3","W4","W5"],"range":["#8ECAE6","#219EBC","#023047","#FFB703","#FB8500"]}}}},
   {"width":57,"height":20,"title":{"text":"W4","fontSize":13,"fontWeight":"normal","offset":7,"color":"#222"},"data":{"name":"strips"},"transform":[{"filter":"datum.wave==='W4'"}],"mark":"rect","encoding":{"x":{"field":"wave","type":"nominal","axis":null,"scale":{"padding":0}},"y":{"field":"name","type":"nominal","axis":null,"scale":{"padding":0}},"color":{"field":"wave","type":"nominal","legend":null,"scale":{"domain":["W1","W2","W3","W4","W5"],"range":["#8ECAE6","#219EBC","#023047","#FFB703","#FB8500"]}}}},
   {"width":187,"height":20,"title":{"text":"W5","fontSize":13,"fontWeight":"normal","offset":7,"color":"#222"},"data":{"name":"strips"},"transform":[{"filter":"datum.wave==='W5'"}],"mark":"rect","encoding":{"x":{"field":"wave","type":"nominal","axis":null,"scale":{"padding":0}},"y":{"field":"name","type":"nominal","scale":{"padding":0},"axis":{"orient":"right","title":null,"domain":false,"ticks":false,"labelFontSize":13.5,"labelPadding":3,"labelColor":"#222"}},"color":{"field":"wave","type":"nominal","legend":null,"scale":{"domain":["W1","W2","W3","W4","W5"],"range":["#8ECAE6","#219EBC","#023047","#FFB703","#FB8500"]}}}}
  ]},
  {"spacing":4,"bounds":"flush","resolve":{"scale":{"color":"independent"}},"hconcat":[
   {"width":77,"height":509,"view":{"stroke":"#222","strokeWidth":1},"data":{"name":"cells"},"transform":[{"filter":"datum.wave==='W1'"}],"mark":{"type":"rect","clip":true},"encoding":{"x":{"field":"s0","type":"quantitative","axis":null,"scale":{"domain":[0,23],"nice":false,"zero":false}},"x2":{"field":"s1"},"y":{"field":"r0","type":"quantitative","axis":null,"scale":{"domain":[0.5,191],"reverse":true,"nice":false,"zero":false}},"y2":{"field":"r1"},"color":{"field":"base","type":"nominal","legend":null,"scale":{"domain":["Del","A","C","G","T"],"range":["#EF476F","#FFD166","#06D6A0","#118AB2","#073B4C"]}}}},
   {"width":97,"height":509,"view":{"stroke":"#222","strokeWidth":1},"data":{"name":"cells"},"transform":[{"filter":"datum.wave==='W2'"}],"mark":{"type":"rect","clip":true},"encoding":{"x":{"field":"s0","type":"quantitative","axis":null,"scale":{"domain":[0,29],"nice":false,"zero":false}},"x2":{"field":"s1"},"y":{"field":"r0","type":"quantitative","axis":null,"scale":{"domain":[0.5,191],"reverse":true,"nice":false,"zero":false}},"y2":{"field":"r1"},"color":{"field":"base","type":"nominal","legend":null,"scale":{"domain":["Del","A","C","G","T"],"range":["#EF476F","#FFD166","#06D6A0","#118AB2","#073B4C"]}}}},
   {"width":97,"height":509,"view":{"stroke":"#222","strokeWidth":1},"data":{"name":"cells"},"transform":[{"filter":"datum.wave==='W3'"}],"mark":{"type":"rect","clip":true},"encoding":{"x":{"field":"s0","type":"quantitative","axis":null,"scale":{"domain":[0,29],"nice":false,"zero":false}},"x2":{"field":"s1"},"y":{"field":"r0","type":"quantitative","axis":null,"scale":{"domain":[0.5,191],"reverse":true,"nice":false,"zero":false}},"y2":{"field":"r1"},"color":{"field":"base","type":"nominal","legend":null,"scale":{"domain":["Del","A","C","G","T"],"range":["#EF476F","#FFD166","#06D6A0","#118AB2","#073B4C"]}}}},
   {"width":57,"height":509,"view":{"stroke":"#222","strokeWidth":1},"data":{"name":"cells"},"transform":[{"filter":"datum.wave==='W4'"}],"mark":{"type":"rect","clip":true},"encoding":{"x":{"field":"s0","type":"quantitative","axis":null,"scale":{"domain":[0,17],"nice":false,"zero":false}},"x2":{"field":"s1"},"y":{"field":"r0","type":"quantitative","axis":null,"scale":{"domain":[0.5,191],"reverse":true,"nice":false,"zero":false}},"y2":{"field":"r1"},"color":{"field":"base","type":"nominal","legend":null,"scale":{"domain":["Del","A","C","G","T"],"range":["#EF476F","#FFD166","#06D6A0","#118AB2","#073B4C"]}}}},
   {"width":187,"height":509,"view":{"stroke":"#222","strokeWidth":1},"data":{"name":"cells"},"transform":[{"filter":"datum.wave==='W5'"}],"mark":{"type":"rect","clip":true},"encoding":{"x":{"field":"s0","type":"quantitative","axis":null,"scale":{"domain":[0,56],"nice":false,"zero":false}},"x2":{"field":"s1"},"y":{"field":"r0","type":"quantitative","axis":null,"scale":{"domain":[0.5,191],"reverse":true,"nice":false,"zero":false}},"y2":{"field":"r1"},"color":{"field":"base","type":"nominal","scale":{"domain":["Del","A","C","G","T"],"range":["#EF476F","#FFD166","#06D6A0","#118AB2","#073B4C"]},"legend":{"title":"Base","orient":"none","legendX":237,"legendY":179,"symbolType":"square","symbolSize":225,"symbolStrokeWidth":0,"titleFontSize":14,"titleFontWeight":"bold","titleColor":"#000","titlePadding":4,"labelFontSize":14,"labelColor":"#000","labelOffset":5,"rowPadding":0}}}},
   {"width":40,"height":509,"layer":[
     {"data":{"name":"leaders"},"mark":{"type":"rule","color":"#333","strokeWidth":0.7},"encoding":{"x":{"field":"c0","type":"quantitative","axis":null,"scale":{"domain":[0,40],"nice":false,"zero":false}},"x2":{"field":"c1"},"y":{"field":"r0","type":"quantitative","axis":null,"scale":{"domain":[0.5,191],"reverse":true,"nice":false,"zero":false}},"y2":{"field":"r1"}}},
     {"data":{"name":"poslabels"},"mark":{"type":"text","align":"left","baseline":"middle","fontSize":6.3,"color":"#222"},"encoding":{"x":{"field":"col","type":"quantitative","axis":null,"scale":{"domain":[0,40],"nice":false,"zero":false}},"y":{"field":"row","type":"quantitative","axis":null,"scale":{"domain":[0.5,191],"reverse":true,"nice":false,"zero":false}},"text":{"field":"name"}}},
     {"data":{"name":"strips"},"transform":[{"filter":"datum.wave==='none'"}],"mark":"rect","encoding":{"color":{"field":"wave","type":"nominal","scale":{"domain":["W1","W2","W3","W4","W5"],"range":["#8ECAE6","#219EBC","#023047","#FFB703","#FB8500"]},"legend":{"title":"Wave","orient":"none","legendX":89,"legendY":179,"symbolType":"square","symbolSize":225,"symbolStrokeWidth":0,"titleFontSize":14,"titleFontWeight":"bold","titleColor":"#000","titlePadding":4,"labelFontSize":12.5,"labelColor":"#000","labelOffset":5,"rowPadding":0}}}}
   ]}
  ]}
 ]}
]},
{"spacing":0,"resolve":{"scale":{"color":"independent"}},"hconcat":[
 {"spacing":0,"resolve":{"scale":{"color":"independent"}},"vconcat":[
  {"width":10,"height":73,"data":{"values":[{"tag":"B"}]},"mark":{"type":"rect","opacity":0},"encoding":{},"title":{"text":"B","orient":"bottom","fontSize":13,"fontWeight":"bold","anchor":"start","dx":-15,"offset":-38,"color":"#000"}},
  {"width":311,"height":203,"view":{"stroke":"#111","strokeWidth":1},"data":{"name":"types"},"mark":{"type":"line","strokeWidth":2.2},"encoding":{
    "x":{"field":"wave","type":"quantitative","scale":{"domain":[0.498,5.05],"nice":false,"zero":false},"axis":{"values":[1,2,3,4,5],"format":"d","title":"Wave","titleFontSize":9.5,"titleFontWeight":"normal","titlePadding":0,"titleColor":"#222","labelFontSize":6.5,"labelColor":"#222","labelPadding":3,"ticks":false,"domain":false,"grid":false}},
    "y":{"field":"fraction","type":"quantitative","scale":{"domain":[0,1],"nice":false},"axis":{"title":"mutation fraction","titleFontSize":9.5,"titleFontWeight":"normal","titleColor":"#222","titlePadding":8,"labels":false,"ticks":false,"domain":false,"grid":false}},
    "color":{"field":"type","type":"nominal","scale":{"domain":["Type 1","Type 2","Type 3","Type 4","Type 5","Type 6"],"range":["#4472C4","#ED7D31","#A5A5A5","#FFC000","#5B9BD5","#70AD47"]},"legend":{"title":null,"orient":"none","legendX":8,"legendY":11,"symbolType":"stroke","symbolSize":484,"symbolStrokeWidth":2.2,"clipHeight":13,"rowPadding":0,"labelFontSize":7.5,"labelColor":"#333","labelOffset":6}}
  }}
 ]},
 {"width":25.7,"height":29,"data":{"values":[{"tag":"C"}]},"mark":{"type":"rect","opacity":0},"encoding":{},"title":{"text":"C","orient":"bottom","fontSize":13,"fontWeight":"bold","anchor":"start","dx":13,"offset":-2,"color":"#000"}},
 {"spacing":6,"resolve":{"scale":{"color":"independent"}},"vconcat":[
  {"width":154.4,"height":170,"view":{"stroke":"#333","strokeWidth":1},"title":{"text":"Pos867","fontSize":10,"fontWeight":"normal","color":"#333","offset":2},"data":{"name":"pos867"},"mark":"bar","encoding":{
    "x":{"field":"wave","type":"nominal","scale":{"paddingInner":0.1,"paddingOuter":0.145},"axis":{"title":null,"labelAngle":0,"labelFontSize":8.5,"labelColor":"#222","tickSize":2,"tickColor":"#333","domain":false,"grid":true,"gridColor":"#ebebeb"}},
    "y":{"field":"percent","type":"quantitative","stack":"zero","scale":{"domain":[-0.05,1.05],"nice":false},"axis":{"title":"Percent","titleFontSize":9.5,"titleFontWeight":"normal","titleColor":"#222","values":[0,0.25,0.5,0.75,1],"format":".2f","labelFontSize":8.7,"labelColor":"#222","tickSize":2,"tickColor":"#333","domain":false,"grid":true,"gridColor":"#ebebeb"}},
    "order":{"field":"base","sort":"ascending"},
    "color":{"field":"base","type":"nominal","scale":{"domain":["C","T"],"range":["#F8766D","#00BFC4"]},"legend":{"title":"Base","orient":"none","legendX":160,"legendY":70,"symbolType":"square","symbolSize":40,"symbolStrokeWidth":0,"titleFontSize":7.5,"titleFontWeight":"normal","titleColor":"#222","titlePadding":2,"labelFontSize":4,"labelColor":"#222","labelOffset":2,"rowPadding":0}}
  }},
  {"width":154.4,"height":170,"view":{"stroke":"#333","strokeWidth":1},"title":{"text":"Pos428","fontSize":10,"fontWeight":"normal","color":"#333","offset":2},"data":{"name":"pos428"},"mark":"bar","encoding":{
    "x":{"field":"wave","type":"nominal","scale":{"paddingInner":0.1,"paddingOuter":0.145},"axis":{"title":"Wave","titleFontSize":9.5,"titleFontWeight":"normal","titleColor":"#222","titlePadding":4,"labelAngle":0,"labelFontSize":8.5,"labelColor":"#222","tickSize":2,"tickColor":"#333","domain":false,"grid":true,"gridColor":"#ebebeb"}},
    "y":{"field":"percent","type":"quantitative","stack":"zero","scale":{"domain":[-0.05,1.05],"nice":false},"axis":{"title":"Percent","titleFontSize":9.5,"titleFontWeight":"normal","titleColor":"#222","titlePadding":3.7,"values":[0,0.25,0.5,0.75,1],"format":".2f","labelFontSize":8.7,"labelColor":"#222","tickSize":2,"tickColor":"#333","domain":false,"grid":true,"gridColor":"#ebebeb"}},
    "order":{"field":"base","sort":"ascending"},
    "color":{"field":"base","type":"nominal","scale":{"domain":["C","T"],"range":["#F8766D","#00BFC4"]},"legend":{"title":"Base","orient":"none","legendX":161,"legendY":73,"symbolType":"square","symbolSize":40,"symbolStrokeWidth":0,"titleFontSize":7.5,"titleFontWeight":"normal","titleColor":"#222","titlePadding":2,"labelFontSize":4,"labelColor":"#222","labelOffset":2,"rowPadding":0}}
  }}
 ]}
]}
]
}
